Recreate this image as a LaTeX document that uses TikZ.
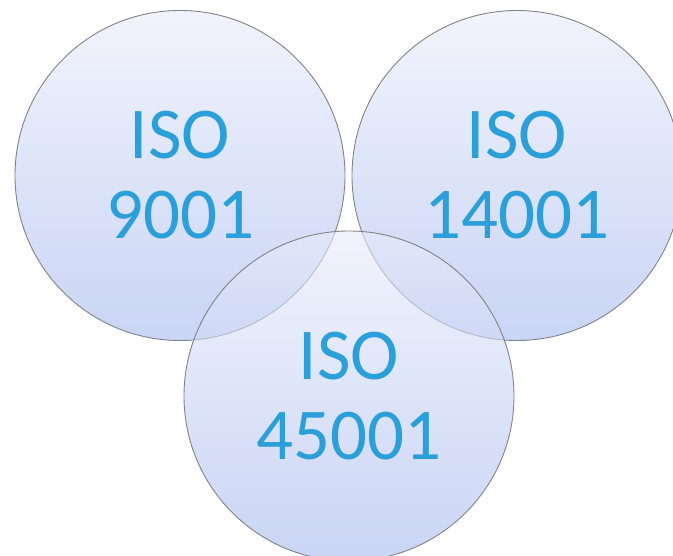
\documentclass[tikz,border=0pt]{standalone}
\usepackage{fontspec}
\setmainfont{Carlito}
\definecolor{isoblue}{RGB}{42,159,218}
\definecolor{circgray}{RGB}{130,130,135}
\definecolor{circtop}{RGB}{232,236,251}
\definecolor{circbot}{RGB}{165,185,238}
\begin{document}
\begin{tikzpicture}[x=1pt,y=-1pt]
\useasboundingbox (0,0) rectangle (673,556);
\tikzset{
  isocircle/.style={circle, minimum size=330pt, inner sep=0pt,
    draw=circgray, line width=0.9pt,
    top color=circtop, bottom color=circbot,
    fill opacity=0.6, draw opacity=1, text opacity=1,
    text=isoblue, font=\fontsize{73}{80}\selectfont, align=center}
}
\node[isocircle] (q) at (180,175.5) {ISO\\9001};
\node[isocircle] (e) at (517,175.5) {ISO\\14001};
\node[isocircle] (h) at (349,396) {ISO\\45001};
\end{tikzpicture}
\end{document}
